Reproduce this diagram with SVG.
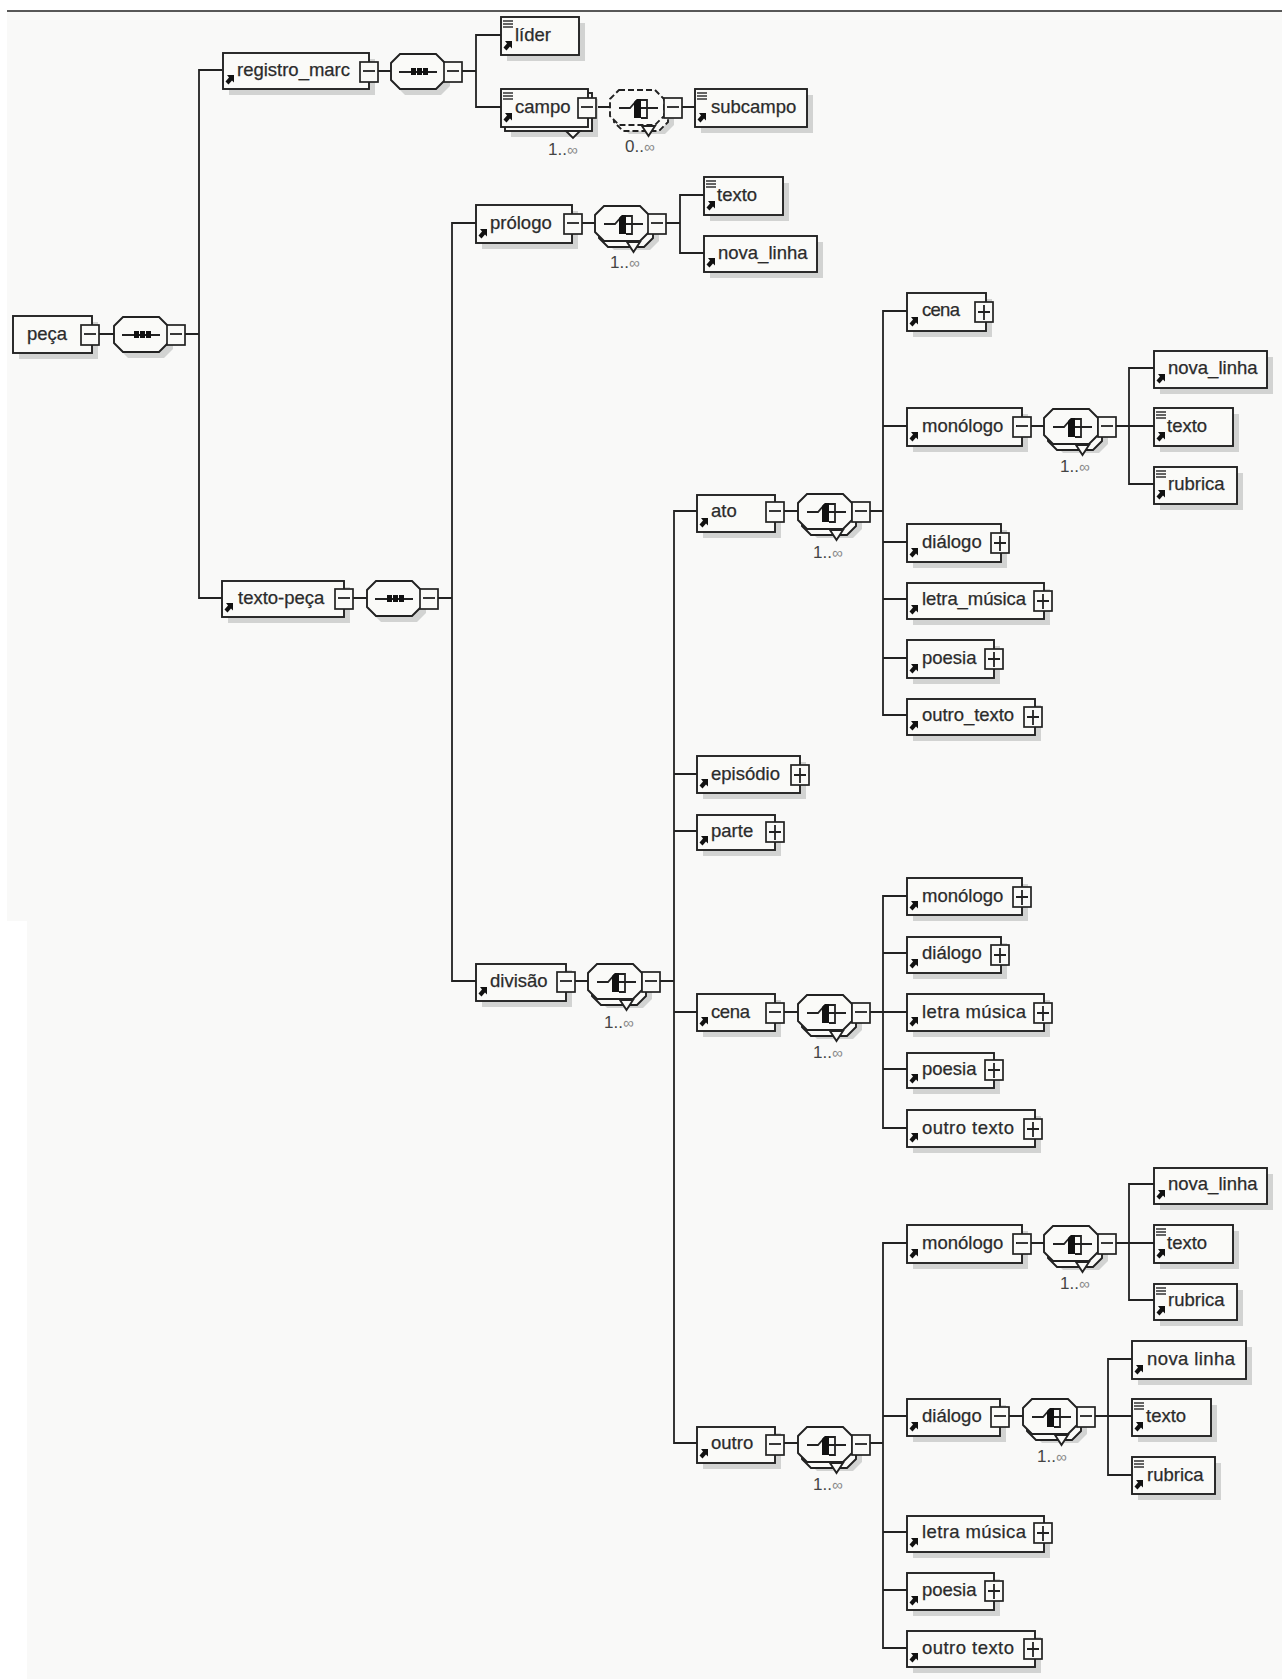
<svg xmlns="http://www.w3.org/2000/svg" width="1282" height="1679" viewBox="0 0 1282 1679">
<style>
.bg{fill:#f9f9f8}
.b{fill:#fafaf8;stroke:#222;stroke-width:1.9}
.s{fill:#d2d3d2}
.c{fill:none;stroke:#222;stroke-width:1.8}
.e{fill:#fafaf8;stroke:#222;stroke-width:1.7}
.o{fill:#fafaf8;stroke:#222;stroke-width:1.9}
.d{stroke-dasharray:6 3}
.k{fill:#111}
.t{font-family:"Liberation Sans",Arial,sans-serif;font-size:18.5px;fill:#2b2b2b;stroke:#2b2b2b;stroke-width:.25}
.m{font-family:"Liberation Sans",Arial,sans-serif;font-size:17px;fill:#444}
.i{font-size:15px;fill:#888}
</style>
<defs>
<g id="xm"><rect class="e" x="0" y="-9" width="18" height="20"/><path class="c" d="M3 0H15"/></g>
<g id="xp"><rect class="e" x="0" y="-9" width="18" height="20"/><path class="c" d="M3 1H15M9 -6V9"/></g>
<polygon id="ref" class="k" points="4,-14 11,-14 11,-6.5 9,-8.5 5.5,-4.5 2.5,-7.5 6,-11.5"/>
<path id="doc" d="M2 4H12M2 7H12M2 10H12" fill="none" stroke="#333" stroke-width="1.3"/>
<polygon id="oc" points="9,-17 45,-17 54,-8 54,9 45,18 9,18 0,9 0,-8"/>
<g id="seq"><use href="#oc" class="s" x="5" y="6"/><use href="#oc" class="o"/><path class="c" d="M8 1H46"/><path class="k" d="M20 -3h5v7h-5zM26 -3h5v7h-5zM32 -3h5v7h-5z"/></g>
<g id="sw"><path class="c" d="M9 1H20L27 -7M31 -7H37V11H31M31 1H48"/><polygon class="k" points="24,-5 27,-8 31,-8 31,11 24,11"/></g>
<g id="cho"><use href="#oc" class="s" x="10" y="9"/><use href="#oc" class="o" x="4" y="6"/><polygon class="o" points="32,19 38.5,29 45,19"/><use href="#oc" class="o"/><use href="#sw"/></g>
<g id="chod"><use href="#oc" class="s" x="10" y="9"/><use href="#oc" class="o d" x="4" y="6"/><polygon class="o" points="32,19 38.5,29 45,19"/><use href="#oc" class="o d"/><use href="#sw"/></g>
</defs>
<rect class="bg" x="7" y="11" width="1275" height="910"/>
<rect class="bg" x="27" y="921" width="1255" height="758"/>
<path d="M7 11H1282" fill="none" stroke="#222" stroke-width="1.5"/>

<g id="connectors">
<path class="c" d="M99 334H114M184 334H199M222 70H199V598H222"/>
<path class="c" d="M377 71H391M462 71H476M501 35H476V107H501"/>
<path class="c" d="M595 107H610M681 107H695"/>
<path class="c" d="M353 598H367M438 598H452M476 223H452V981H476"/>
<path class="c" d="M580 223H595M665 223H680M704 195H680V253H704"/>
<path class="c" d="M574 981H588M660 981H674M697 511H674V1443H697M674 774H697M674 831H697M674 1012H697"/>
<path class="c" d="M784 511H798M869 511H883M907 311H883V715H907M883 426H907M883 542H907M883 599H907M883 658H907"/>
<path class="c" d="M1031 426H1044M1116 426H1129M1154 368H1129V484H1154M1129 426H1154"/>
<path class="c" d="M784 1012H798M869 1012H883M907 896H883V1128H907M883 953H907M883 1012H907M883 1069H907"/>
<path class="c" d="M784 1443H798M869 1443H883M907 1243H883V1648H907M883 1416H907M883 1532H907M883 1590H907"/>
<path class="c" d="M1031 1243H1044M1116 1243H1129M1154 1184H1129V1300H1154M1129 1243H1154"/>
<path class="c" d="M1009 1416H1023M1094 1416H1108M1132 1359H1108V1475H1132M1108 1416H1132"/>
</g>

<g id="n-peca"><rect class="s" x="19" y="322" width="79" height="37"/><rect class="b" x="13" y="316" width="79" height="37"/><use href="#xm" x="81" y="334"/><text class="t" x="27" y="340">peça</text></g>
<g id="c-peca"><use href="#seq" x="114" y="334"/><use href="#xm" x="167" y="334"/></g>

<g id="n-registro"><rect class="s" x="229" y="59" width="146" height="36"/><rect class="b" x="223" y="53" width="146" height="36"/><use href="#ref" x="223" y="89"/><use href="#xm" x="360" y="71"/><text class="t" x="237" y="76" textLength="113">registro_marc</text></g>
<g id="c-registro"><use href="#seq" x="391" y="71"/><use href="#xm" x="444" y="71"/></g>
<g id="n-lider"><rect class="s" x="507" y="23" width="78" height="38"/><rect class="b" x="501" y="17" width="78" height="38"/><use href="#doc" x="501" y="17"/><use href="#ref" x="501" y="55"/><text class="t" x="515" y="41">líder</text></g>
<g id="n-campo"><rect class="s" x="511" y="99" width="87" height="38"/><rect class="b" x="505" y="93" width="87" height="38"/><polygon class="o" points="566,131 573,138 580,131"/><rect class="b" x="501" y="89" width="87" height="38"/><use href="#doc" x="501" y="89"/><use href="#ref" x="501" y="127"/><use href="#xm" x="578" y="107"/><text class="t" x="515" y="113">campo</text><text class="m" x="548" y="155">1..<tspan class="i">∞</tspan></text></g>
<g id="c-campo"><use href="#chod" x="610" y="107"/><use href="#xm" x="664" y="107"/><text class="m" x="625" y="152">0..<tspan class="i">∞</tspan></text></g>
<g id="n-subcampo"><rect class="s" x="701" y="95" width="112" height="38"/><rect class="b" x="695" y="89" width="112" height="38"/><use href="#doc" x="695" y="89"/><use href="#ref" x="695" y="127"/><text class="t" x="711" y="113">subcampo</text></g>

<g id="n-textopeca"><rect class="s" x="228" y="587" width="122" height="36"/><rect class="b" x="222" y="581" width="122" height="36"/><use href="#ref" x="222" y="617"/><use href="#xm" x="335" y="598"/><text class="t" x="238" y="604">texto-peça</text></g>
<g id="c-textopeca"><use href="#seq" x="367" y="598"/><use href="#xm" x="420" y="598"/></g>

<g id="n-prologo"><rect class="s" x="482" y="211" width="96" height="38"/><rect class="b" x="476" y="205" width="96" height="38"/><use href="#ref" x="476" y="243"/><use href="#xm" x="564" y="223"/><text class="t" x="490" y="229">prólogo</text></g>
<g id="c-prologo"><use href="#cho" x="595" y="223"/><use href="#xm" x="648" y="223"/><text class="m" x="610" y="268">1..<tspan class="i">∞</tspan></text></g>
<g id="n-texto1"><rect class="s" x="710" y="183" width="79" height="38"/><rect class="b" x="704" y="177" width="79" height="38"/><use href="#doc" x="704" y="177"/><use href="#ref" x="704" y="215"/><text class="t" x="717" y="201">texto</text></g>
<g id="n-novalinha1"><rect class="s" x="710" y="242" width="113" height="36"/><rect class="b" x="704" y="236" width="113" height="36"/><use href="#ref" x="704" y="272"/><text class="t" x="718" y="259">nova_linha</text></g>

<g id="n-divisao"><rect class="s" x="482" y="970" width="90" height="37"/><rect class="b" x="476" y="964" width="90" height="37"/><use href="#ref" x="476" y="1001"/><use href="#xm" x="557" y="981"/><text class="t" x="490" y="987">divisão</text></g>
<g id="c-divisao"><use href="#cho" x="588" y="981"/><use href="#xm" x="642" y="981"/><text class="m" x="604" y="1028">1..<tspan class="i">∞</tspan></text></g>

<g id="n-ato"><rect class="s" x="703" y="501" width="78" height="37"/><rect class="b" x="697" y="495" width="78" height="37"/><use href="#ref" x="697" y="532"/><use href="#xm" x="766" y="511"/><text class="t" x="711" y="517">ato</text></g>
<g id="c-ato"><use href="#cho" x="798" y="511"/><use href="#xm" x="852" y="511"/><text class="m" x="813" y="558">1..<tspan class="i">∞</tspan></text></g>
<g id="n-ato-cena"><rect class="s" x="913" y="299" width="79" height="38"/><rect class="b" x="907" y="293" width="79" height="38"/><use href="#ref" x="907" y="331"/><use href="#xp" x="975" y="311"/><text class="t" x="922" y="316" textLength="38">cena</text></g>
<g id="n-ato-monologo"><rect class="s" x="913" y="414" width="115" height="38"/><rect class="b" x="907" y="408" width="115" height="38"/><use href="#ref" x="907" y="446"/><use href="#xm" x="1013" y="426"/><text class="t" x="922" y="432">monólogo</text></g>
<g id="c-ato-monologo"><use href="#cho" x="1044" y="426"/><use href="#xm" x="1098" y="426"/><text class="m" x="1060" y="472">1..<tspan class="i">∞</tspan></text></g>
<g id="n-ato-novalinha"><rect class="s" x="1160" y="357" width="113" height="37"/><rect class="b" x="1154" y="351" width="113" height="37"/><use href="#ref" x="1154" y="388"/><text class="t" x="1168" y="374">nova_linha</text></g>
<g id="n-ato-texto"><rect class="s" x="1160" y="414" width="79" height="38"/><rect class="b" x="1154" y="408" width="79" height="38"/><use href="#doc" x="1154" y="408"/><use href="#ref" x="1154" y="446"/><text class="t" x="1167" y="432">texto</text></g>
<g id="n-ato-rubrica"><rect class="s" x="1160" y="473" width="83" height="37"/><rect class="b" x="1154" y="467" width="83" height="37"/><use href="#doc" x="1154" y="467"/><use href="#ref" x="1154" y="504"/><text class="t" x="1168" y="490">rubrica</text></g>
<g id="n-ato-dialogo"><rect class="s" x="913" y="530" width="94" height="38"/><rect class="b" x="907" y="524" width="94" height="38"/><use href="#ref" x="907" y="562"/><use href="#xp" x="991" y="542"/><text class="t" x="922" y="548">diálogo</text></g>
<g id="n-ato-letra"><rect class="s" x="913" y="589" width="137" height="36"/><rect class="b" x="907" y="583" width="137" height="36"/><use href="#ref" x="907" y="619"/><use href="#xp" x="1034" y="600"/><text class="t" x="922" y="605" textLength="104">letra_música</text></g>
<g id="n-ato-poesia"><rect class="s" x="913" y="646" width="87" height="38"/><rect class="b" x="907" y="640" width="87" height="38"/><use href="#ref" x="907" y="678"/><use href="#xp" x="985" y="658"/><text class="t" x="922" y="664">poesia</text></g>
<g id="n-ato-outro"><rect class="s" x="913" y="705" width="128" height="36"/><rect class="b" x="907" y="699" width="128" height="36"/><use href="#ref" x="907" y="735"/><use href="#xp" x="1024" y="716"/><text class="t" x="922" y="721" textLength="92">outro_texto</text></g>

<g id="n-episodio"><rect class="s" x="703" y="762" width="103" height="37"/><rect class="b" x="697" y="756" width="103" height="37"/><use href="#ref" x="697" y="793"/><use href="#xp" x="791" y="774"/><text class="t" x="711" y="780">episódio</text></g>
<g id="n-parte"><rect class="s" x="703" y="821" width="78" height="35"/><rect class="b" x="697" y="815" width="78" height="35"/><use href="#ref" x="697" y="850"/><use href="#xp" x="766" y="831"/><text class="t" x="711" y="837">parte</text></g>

<g id="n-cena"><rect class="s" x="703" y="1000" width="78" height="37"/><rect class="b" x="697" y="994" width="78" height="37"/><use href="#ref" x="697" y="1031"/><use href="#xm" x="766" y="1012"/><text class="t" x="711" y="1018" textLength="39">cena</text></g>
<g id="c-cena"><use href="#cho" x="798" y="1012"/><use href="#xm" x="852" y="1012"/><text class="m" x="813" y="1058">1..<tspan class="i">∞</tspan></text></g>
<g id="n-cena-monologo"><rect class="s" x="913" y="884" width="115" height="37"/><rect class="b" x="907" y="878" width="115" height="37"/><use href="#ref" x="907" y="915"/><use href="#xp" x="1013" y="896"/><text class="t" x="922" y="902">monólogo</text></g>
<g id="n-cena-dialogo"><rect class="s" x="913" y="943" width="94" height="36"/><rect class="b" x="907" y="937" width="94" height="36"/><use href="#ref" x="907" y="973"/><use href="#xp" x="991" y="954"/><text class="t" x="922" y="959">diálogo</text></g>
<g id="n-cena-letra"><rect class="s" x="913" y="1000" width="137" height="37"/><rect class="b" x="907" y="994" width="137" height="37"/><use href="#ref" x="907" y="1031"/><use href="#xp" x="1034" y="1012"/><text class="t" x="922" y="1018" textLength="104">letra música</text></g>
<g id="n-cena-poesia"><rect class="s" x="913" y="1059" width="87" height="35"/><rect class="b" x="907" y="1053" width="87" height="35"/><use href="#ref" x="907" y="1088"/><use href="#xp" x="985" y="1069"/><text class="t" x="922" y="1075">poesia</text></g>
<g id="n-cena-outro"><rect class="s" x="913" y="1116" width="128" height="37"/><rect class="b" x="907" y="1110" width="128" height="37"/><use href="#ref" x="907" y="1147"/><use href="#xp" x="1024" y="1128"/><text class="t" x="922" y="1134" textLength="92">outro texto</text></g>

<g id="n-outro"><rect class="s" x="703" y="1433" width="78" height="36"/><rect class="b" x="697" y="1427" width="78" height="36"/><use href="#ref" x="697" y="1463"/><use href="#xm" x="766" y="1444"/><text class="t" x="711" y="1449">outro</text></g>
<g id="c-outro"><use href="#cho" x="798" y="1444"/><use href="#xm" x="852" y="1444"/><text class="m" x="813" y="1490">1..<tspan class="i">∞</tspan></text></g>
<g id="n-outro-monologo"><rect class="s" x="913" y="1231" width="115" height="38"/><rect class="b" x="907" y="1225" width="115" height="38"/><use href="#ref" x="907" y="1263"/><use href="#xm" x="1013" y="1243"/><text class="t" x="922" y="1249">monólogo</text></g>
<g id="c-outro-monologo"><use href="#cho" x="1044" y="1243"/><use href="#xm" x="1098" y="1243"/><text class="m" x="1060" y="1289">1..<tspan class="i">∞</tspan></text></g>
<g id="n-outro-m-novalinha"><rect class="s" x="1160" y="1174" width="113" height="36"/><rect class="b" x="1154" y="1168" width="113" height="36"/><use href="#ref" x="1154" y="1204"/><text class="t" x="1168" y="1190">nova_linha</text></g>
<g id="n-outro-m-texto"><rect class="s" x="1160" y="1231" width="79" height="38"/><rect class="b" x="1154" y="1225" width="79" height="38"/><use href="#doc" x="1154" y="1225"/><use href="#ref" x="1154" y="1263"/><text class="t" x="1167" y="1249">texto</text></g>
<g id="n-outro-m-rubrica"><rect class="s" x="1160" y="1290" width="83" height="36"/><rect class="b" x="1154" y="1284" width="83" height="36"/><use href="#doc" x="1154" y="1284"/><use href="#ref" x="1154" y="1320"/><text class="t" x="1168" y="1306">rubrica</text></g>
<g id="n-outro-dialogo"><rect class="s" x="913" y="1405" width="93" height="37"/><rect class="b" x="907" y="1399" width="93" height="37"/><use href="#ref" x="907" y="1436"/><use href="#xm" x="991" y="1416"/><text class="t" x="922" y="1422">diálogo</text></g>
<g id="c-outro-dialogo"><use href="#cho" x="1023" y="1416"/><use href="#xm" x="1077" y="1416"/><text class="m" x="1037" y="1462">1..<tspan class="i">∞</tspan></text></g>
<g id="n-outro-d-novalinha"><rect class="s" x="1138" y="1347" width="114" height="38"/><rect class="b" x="1132" y="1341" width="114" height="38"/><use href="#ref" x="1132" y="1379"/><text class="t" x="1147" y="1365" textLength="88">nova linha</text></g>
<g id="n-outro-d-texto"><rect class="s" x="1138" y="1405" width="79" height="37"/><rect class="b" x="1132" y="1399" width="79" height="37"/><use href="#doc" x="1132" y="1399"/><use href="#ref" x="1132" y="1436"/><text class="t" x="1146" y="1422">texto</text></g>
<g id="n-outro-d-rubrica"><rect class="s" x="1138" y="1463" width="83" height="37"/><rect class="b" x="1132" y="1457" width="83" height="37"/><use href="#doc" x="1132" y="1457"/><use href="#ref" x="1132" y="1494"/><text class="t" x="1147" y="1481">rubrica</text></g>
<g id="n-outro-letra"><rect class="s" x="913" y="1522" width="137" height="36"/><rect class="b" x="907" y="1516" width="137" height="36"/><use href="#ref" x="907" y="1552"/><use href="#xp" x="1034" y="1532"/><text class="t" x="922" y="1538" textLength="104">letra música</text></g>
<g id="n-outro-poesia"><rect class="s" x="913" y="1579" width="87" height="37"/><rect class="b" x="907" y="1573" width="87" height="37"/><use href="#ref" x="907" y="1610"/><use href="#xp" x="985" y="1590"/><text class="t" x="922" y="1596">poesia</text></g>
<g id="n-outro-outro"><rect class="s" x="913" y="1637" width="128" height="36"/><rect class="b" x="907" y="1631" width="128" height="36"/><use href="#ref" x="907" y="1667"/><use href="#xp" x="1024" y="1648"/><text class="t" x="922" y="1654" textLength="92">outro texto</text></g>
</svg>
